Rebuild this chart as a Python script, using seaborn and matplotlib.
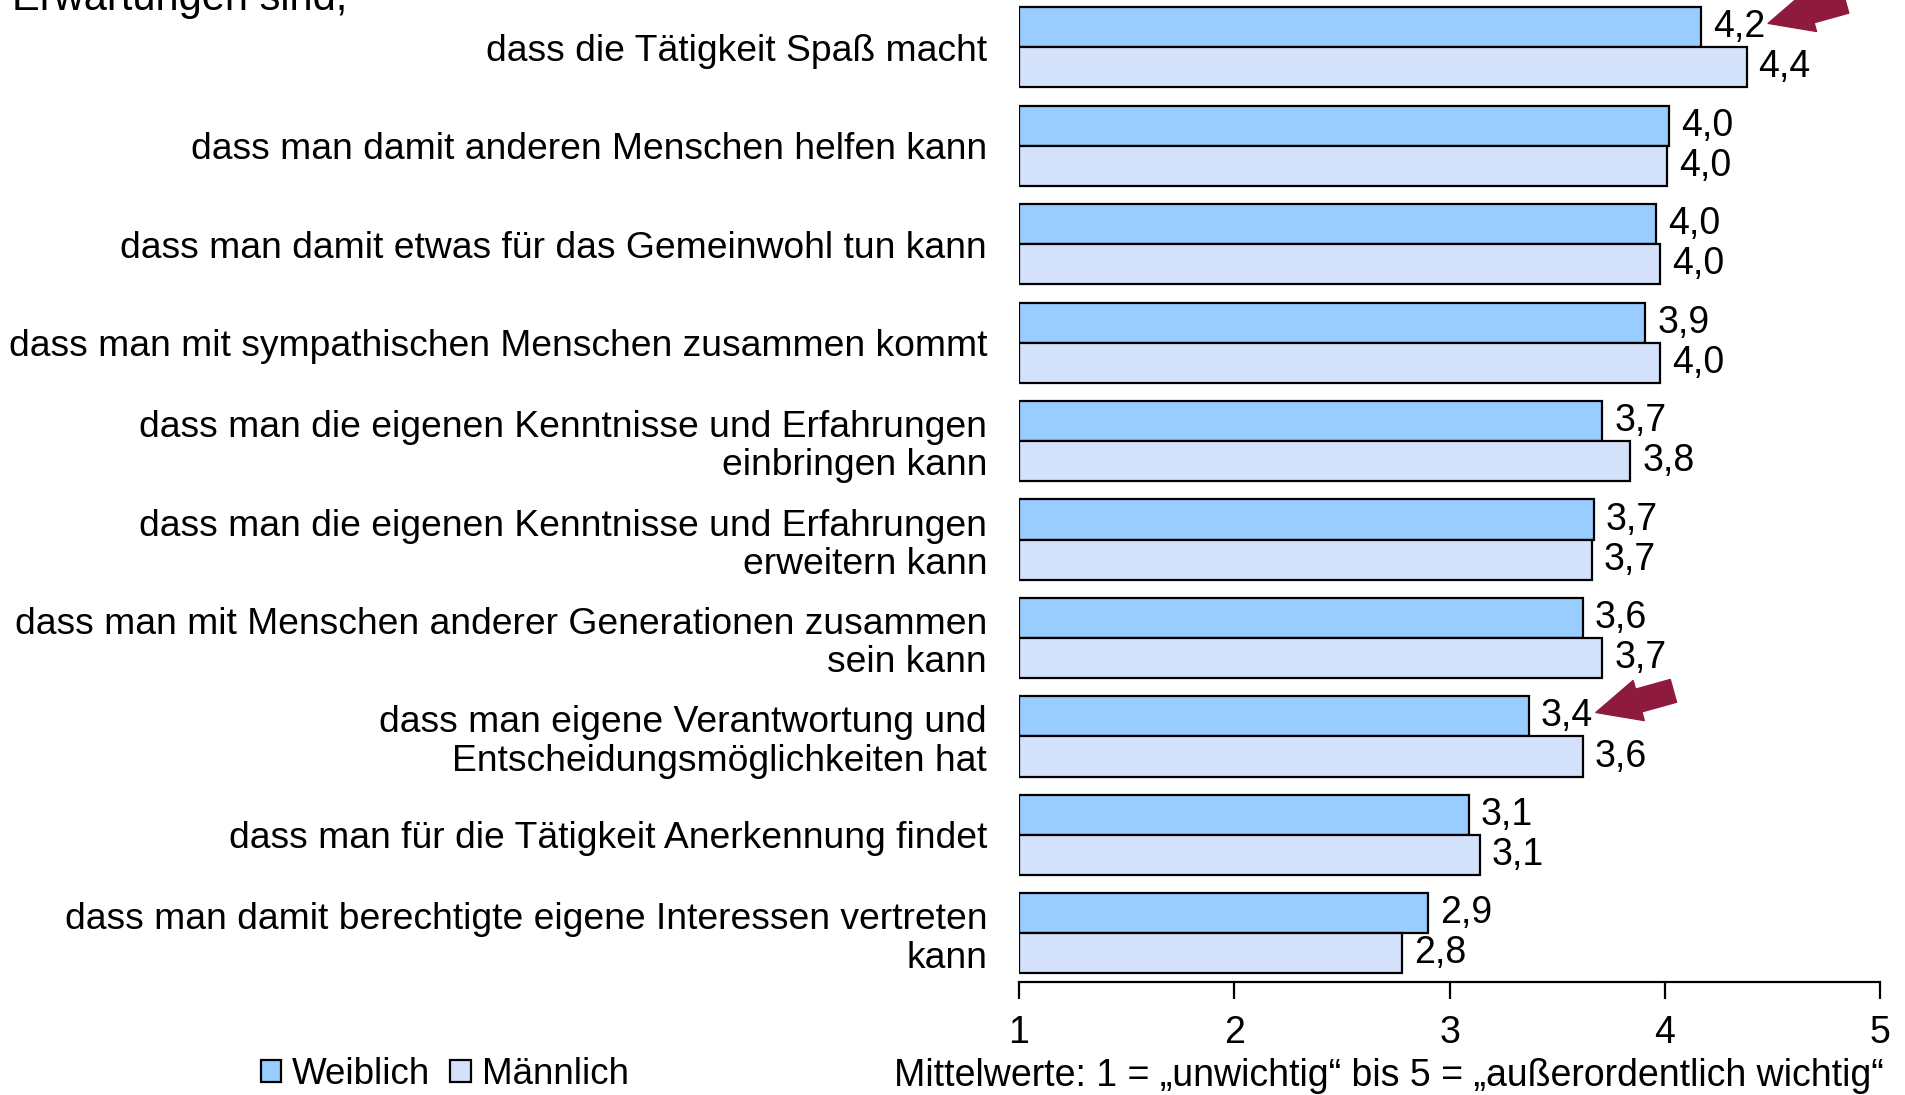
import matplotlib
matplotlib.use("Agg")
import matplotlib.pyplot as plt
import seaborn as sns
import pandas as pd
from matplotlib.patches import Patch

categories = [
    "dass die Tätigkeit Spaß macht",
    "dass man damit anderen Menschen helfen kann",
    "dass man damit etwas für das Gemeinwohl tun kann",
    "dass man mit sympathischen Menschen zusammen kommt",
    "dass man die eigenen Kenntnisse und Erfahrungen\neinbringen kann",
    "dass man die eigenen Kenntnisse und Erfahrungen\nerweitern kann",
    "dass man mit Menschen anderer Generationen zusammen\nsein kann",
    "dass man eigene Verantwortung und\nEntscheidungsmöglichkeiten hat",
    "dass man für die Tätigkeit Anerkennung findet",
    "dass man damit berechtigte eigene Interessen vertreten\nkann",
]
weiblich = [4.17, 4.02, 3.96, 3.91, 3.71, 3.67, 3.62, 3.37, 3.09, 2.90]
maennlich = [4.38, 4.01, 3.98, 3.98, 3.84, 3.66, 3.71, 3.62, 3.14, 2.78]
series = ["Weiblich", "Männlich"]
xticks = [1, 2, 3, 4, 5]
xlabel = "Mittelwerte: 1 = „unwichtig“ bis 5 = „außerordentlich wichtig“"
header = "Erwartungen sind,"

colors = {"Weiblich": "#99CCFF", "Männlich": "#D3E1FA"}
arrow_color = "#8E1A3D"

sns.set_style("white")
plt.rcParams["font.family"] = ["Liberation Sans", "DejaVu Sans"]
for k in ["text.color", "axes.labelcolor", "xtick.color", "ytick.color"]:
    plt.rcParams[k] = "black"
FS = 27

df = pd.DataFrame({
    "Kategorie": categories * 2,
    "Wert": weiblich + maennlich,
    "Geschlecht": [series[0]] * len(categories) + [series[1]] * len(categories),
})

fig = plt.figure(figsize=(19.06, 10.95), dpi=100)
ax = fig.add_axes([0.5346, 0.1032, 0.9864 - 0.5346, 0.8968])

sns.barplot(data=df, y="Kategorie", x="Wert", hue="Geschlecht", orient="h",
            palette=colors, hue_order=series, order=categories, width=0.815,
            saturation=1, edgecolor="black", linewidth=1.6, ax=ax,
            legend=False, errorbar=None)

# bars start at 1 (scale origin)
for p in ax.patches:
    w = p.get_width()
    p.set_x(1)
    p.set_width(w - 1)

ax.set_xlim(1, 5)
ax.set_ylim(len(categories) - 1 + 0.494, -0.481)
ax.set_xticks(xticks)
ax.set_xticklabels([str(t) for t in xticks], fontsize=FS)
ax.tick_params(axis="x", bottom=True, direction="out", length=12, width=1.6,
               color="black", pad=12)
ax.tick_params(axis="y", left=False, length=0, pad=23, labelsize=26.8)
for lab in ax.get_yticklabels():
    lab.set_horizontalalignment("right")
    lab.set_multialignment("right")
    lab.set_linespacing(1.12)
ax.set_ylabel("")
ax.set_xlabel(xlabel, fontsize=FS, labelpad=2, ha="right")
ax.xaxis.set_label_coords(1.004, -0.077)
for s in ["top", "right", "left"]:
    ax.spines[s].set_visible(False)
ax.spines["bottom"].set_linewidth(1.6)
ax.spines["bottom"].set_color("black")

# value labels
off = 0.2035
for i in range(len(categories)):
    for val, dy in ((weiblich[i], -off), (maennlich[i], off)):
        txt = f"{val:.1f}".replace(".", ",")
        ax.text(val + 0.055, i + dy, txt, va="center", ha="left", fontsize=FS)

# arrows pointing at highlighted values
for idx, lx in ((0, weiblich[0]), (7, weiblich[7])):
    tip_x = lx + 0.31
    tip_y = idx - off - 0.04
    ax.annotate("", xy=(tip_x, tip_y), xytext=(tip_x + 0.36, tip_y - 0.22),
                arrowprops=dict(arrowstyle="simple,head_length=3.2,head_width=3.0,tail_width=1.7",
                                mutation_scale=10, color=arrow_color,
                                shrinkA=0, shrinkB=0),
                annotation_clip=False)

fig.text(0.0065, 0.991, header, fontsize=30, va="baseline", ha="left")

handles = [Patch(facecolor=colors[s], edgecolor="black", linewidth=1.6, label=s) for s in series]
fig.legend(handles=handles, loc="center left", bbox_to_anchor=(0.129, 0.019), ncol=2,
           frameon=False, fontsize=26.5, handlelength=0.55, handleheight=0.55,
           handletextpad=0.3, columnspacing=0.55, borderaxespad=0)

fig.savefig("out.png", dpi=100)
